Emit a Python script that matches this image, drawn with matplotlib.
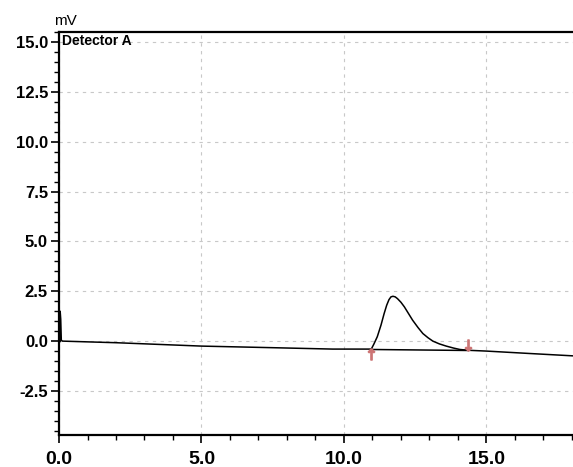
import matplotlib
matplotlib.use("Agg")
import matplotlib.pyplot as plt
from matplotlib.ticker import MultipleLocator

# chromatogram trace (min, mV)
time_min = [0.04, 0.04, 0.06, 0.08, 0.12, 2.0, 5.0, 7.5, 9.6, 10.96, 11.05, 11.17, 11.3, 11.41,
            11.5, 11.58, 11.65, 11.72, 11.8, 11.88, 12.0, 12.12, 12.25, 12.41, 12.6, 12.77,
            12.95, 13.12, 13.35, 13.59, 13.85, 14.07, 14.36, 15.0, 16.5, 18.3]
signal_mv = [-0.02, 1.5, 1.1, 0.05, 0.0, -0.08, -0.25, -0.33, -0.40, -0.40, -0.15, 0.22, 0.8, 1.38,
             1.8, 2.08, 2.22, 2.25, 2.22, 2.13, 1.95, 1.72, 1.42, 1.05, 0.68, 0.38,
             0.17, 0.0, -0.14, -0.25, -0.35, -0.42, -0.46, -0.50, -0.62, -0.76]

# integration start / end points
peak_start = (10.96, -0.42)
peak_end = (14.36, -0.47)

x_ticks = [0.0, 5.0, 10.0, 15.0]
y_ticks = [-2.5, 0.0, 2.5, 5.0, 7.5, 10.0, 12.5, 15.0]

plt.rcParams['font.family'] = ['Liberation Sans', 'DejaVu Sans']

fig = plt.figure(figsize=(5.73, 4.67), dpi=100)
ax = fig.add_axes([0.103, 0.069, 0.905, 0.862])

ax.plot(time_min, signal_mv, color='black', linewidth=1.1)
# integration baseline under the peak
ax.plot([peak_start[0], peak_end[0]], [peak_start[1], peak_end[1]], color='black', linewidth=1.1)

# peak markers
ax.plot(peak_start[0], peak_start[1] - 0.23, marker=r'$\uparrow$', color='#cc7474',
        markersize=8, linestyle='none')
ax.plot(peak_end[0], peak_end[1] + 0.27, marker=r'$\downarrow$', color='#cc7474',
        markersize=8, linestyle='none')

ax.set_xlim(0.0, 18.2)
ax.set_ylim(-4.7, 15.5)
ax.set_xticks(x_ticks)
ax.set_yticks(y_ticks)
ax.set_xticklabels([f'{v:.1f}' for v in x_ticks])
ax.set_yticklabels([f'{v:.1f}' for v in y_ticks])
ax.xaxis.set_minor_locator(MultipleLocator(1.0))
ax.yaxis.set_minor_locator(MultipleLocator(0.5))

ax.tick_params(axis='x', which='major', labelsize=14, length=6, width=1.2, pad=6)
ax.tick_params(axis='y', which='major', labelsize=12, length=6, width=1.2, pad=2)
ax.tick_params(which='minor', length=3.5, width=1.0)
for lbl in ax.get_xticklabels() + ax.get_yticklabels():
    lbl.set_fontweight('bold')

ax.grid(True, which='major', linestyle=(0, (3, 4)), color='#c8c8c8', linewidth=0.8)

for side in ['left', 'bottom', 'top']:
    ax.spines[side].set_linewidth(1.6)
ax.spines['right'].set_visible(False)

ax.text(-0.01, 1.01, 'mV', transform=ax.transAxes, fontsize=11, ha='left', va='bottom')
ax.text(0.005, 0.995, 'Detector A', transform=ax.transAxes, fontsize=10,
        fontweight='bold', ha='left', va='top')

fig.savefig('out.png', dpi=100)
